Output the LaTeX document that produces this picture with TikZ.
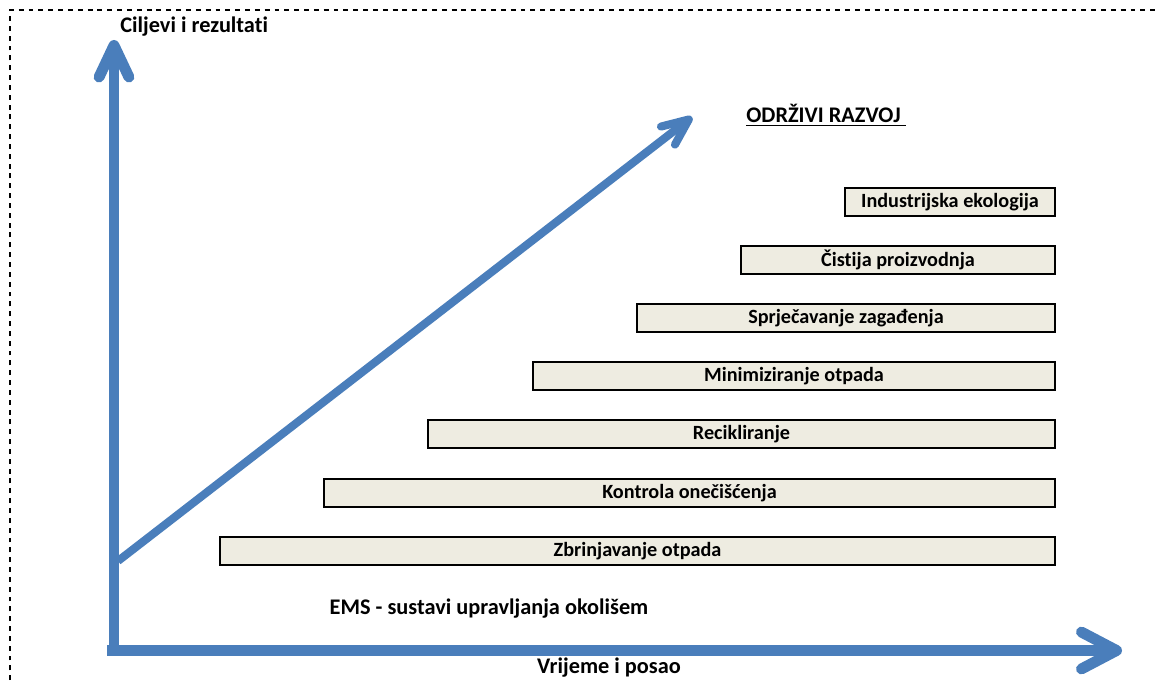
\documentclass[tikz,border=0pt]{standalone}
\usepackage{fontspec}
\setmainfont{Carlito}[Ligatures=NoCommon]
\usetikzlibrary{arrows.meta}
\definecolor{axisblue}{HTML}{4A7EBB}
\definecolor{boxfill}{HTML}{EEECE1}
\begin{document}
\begin{tikzpicture}[x=0.02cm,y=-0.02cm,
  lbl/.style={font=\bfseries\fontsize{12.7}{14}\selectfont, inner sep=0},
  stepbox/.style={draw=black, line width=1.1pt, fill=boxfill, minimum height=0.56cm, inner sep=0, font=\bfseries\fontsize{11.5}{13}\selectfont},
  axis/.style={draw=axisblue, line width=6.2pt, line cap=butt},
  border/.style={draw=black, line width=1pt, dash pattern=on 2.8pt off 2.8pt}]
\useasboundingbox (0,0) rectangle (1155,682);
% border
\coordinate (b1) at (10,690);
\coordinate (b2) at (10,10);
\coordinate (b3) at (1160,10);
\draw[border] (b1) -- (b2) -- (b3);
% axes
\coordinate (hstart) at (107,650.5);
\coordinate (htip) at (1122,650.5);
\coordinate (vstart) at (114,656);
\coordinate (vtip) at (114,40);
\coordinate (dstart) at (118,561);
\coordinate (dtip) at (692,117);
\draw[axis, -{Straight Barb[length=20pt, width=21pt, line cap=round, line join=round]}] (hstart) -- (htip);
\draw[axis, -{Straight Barb[length=18pt, width=17pt, line cap=round, line join=round]}] (vstart) -- (vtip);
\draw[axis, line width=4.6pt, -{Straight Barb[length=15pt, width=13pt, line cap=round, line join=round]}] (dstart) -- (dtip);
% labels
\node[lbl, anchor=west] (ylabel) at (120,27) {Ciljevi i rezultati};
\node[lbl, anchor=west] (sd) at (746,115) {\underline{ODRŽIVI RAZVOJ\ }};
\node[lbl] (ems) at (489,609) {EMS - sustavi upravljanja okolišem};
\node[lbl] (xlabel) at (609,668) {Vrijeme i posao};
% boxes
\node[stepbox, minimum width=4.2cm]   (s1) at (950,202)   {Industrijska ekologija};
\node[stepbox, minimum width=6.28cm]  (s2) at (898,260)   {Čistija proizvodnja};
\node[stepbox, minimum width=8.36cm]  (s3) at (846,318)   {Sprječavanje zagađenja};
\node[stepbox, minimum width=10.44cm] (s4) at (794,376)   {Minimiziranje otpada};
\node[stepbox, minimum width=12.54cm] (s5) at (741.5,434) {Recikliranje};
\node[stepbox, minimum width=14.62cm] (s6) at (689.5,493) {Kontrola onečišćenja};
\node[stepbox, minimum width=16.7cm]  (s7) at (637.5,551) {Zbrinjavanje otpada};
\end{tikzpicture}
\end{document}
